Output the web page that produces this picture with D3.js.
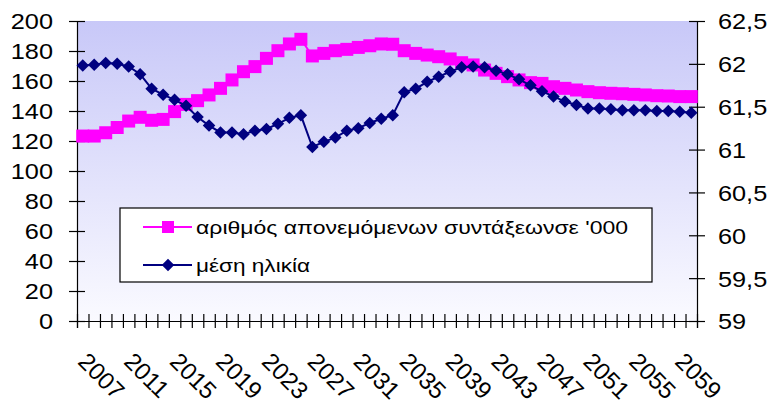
<!DOCTYPE html>
<html>
<head>
<meta charset="utf-8">
<script src="https://cdn.jsdelivr.net/npm/d3@7"></script>
<style>
  body { margin: 0; background: #fff; }
  text { font-family: "Liberation Sans", Arial, sans-serif; fill: #000; }
</style>
</head>
<body>
<script>
// Data
const years = [2007, 2008, 2009, 2010, 2011, 2012, 2013, 2014, 2015, 2016,
  2017, 2018, 2019, 2020, 2021, 2022, 2023, 2024, 2025, 2026,
  2027, 2028, 2029, 2030, 2031, 2032, 2033, 2034, 2035, 2036,
  2037, 2038, 2039, 2040, 2041, 2042, 2043, 2044, 2045, 2046,
  2047, 2048, 2049, 2050, 2051, 2052, 2053, 2054, 2055, 2056,
  2057, 2058, 2059, 2060];
const labelYears = [2007, 2011, 2015, 2019, 2023, 2027, 2031, 2035, 2039, 2043, 2047, 2051, 2055, 2059];

// number of pensions granted, thousands (left axis)
const pensions = [123.3, 123.3, 125.5, 129, 133.3, 135.8, 133.8, 134.4, 139.6, 144.4,
  146.9, 150.7, 155.1, 160.7, 166.2, 169.6, 175.1, 180.2, 184.7, 187.8,
  176.7, 178.4, 180.2, 181.1, 182.4, 183.5, 184.7, 184.5, 180.2, 178.4,
  177.3, 176.2, 174.7, 172.2, 170.7, 167.3, 165.1, 162.9, 160.7, 158.9,
  158.4, 156.2, 155.1, 154, 152.9, 152.2, 151.8, 151.5, 151.1, 150.7,
  150.2, 150, 149.6, 149.6];

// average age (right axis)
const age = [61.98, 61.99, 62.01, 62.0, 61.97, 61.88, 61.71, 61.64, 61.58, 61.51,
  61.38, 61.28, 61.20, 61.20, 61.18, 61.22, 61.24, 61.30, 61.37, 61.40,
  61.03, 61.09, 61.14, 61.22, 61.25, 61.31, 61.36, 61.40, 61.67, 61.71,
  61.79, 61.85, 61.91, 61.96, 61.97, 61.96, 61.92, 61.88, 61.82, 61.75,
  61.68, 61.62, 61.56, 61.52, 61.48, 61.48, 61.47, 61.46, 61.46, 61.46,
  61.45, 61.45, 61.44, 61.43];

const leftTicks = [0, 20, 40, 60, 80, 100, 120, 140, 160, 180, 200];
const rightTicks = [59, 59.5, 60, 60.5, 61, 61.5, 62, 62.5];
const seriesNames = ["αριθμός απονεμόμενων συντάξεωνσε '000", "μέση ηλικία"];

// Layout
const WIDTH = 773;
const HEIGHT = 407;
const MARGIN = { top: 21, right: 76, bottom: 86, left: 77 };
const CHART_WIDTH = WIDTH - MARGIN.left - MARGIN.right;
const CHART_HEIGHT = HEIGHT - MARGIN.top - MARGIN.bottom;
const PINK = "#ff00ff";
const NAVY = "#000080";

const svg = d3.select("body")
  .append("svg")
  .attr("width", WIDTH)
  .attr("height", HEIGHT);

const defs = svg.append("defs");
const grad = defs.append("linearGradient")
  .attr("id", "bg")
  .attr("x1", 0).attr("y1", 0).attr("x2", 0).attr("y2", 1);
grad.append("stop").attr("offset", "0%").attr("stop-color", "#c8c8f8");
grad.append("stop").attr("offset", "100%").attr("stop-color", "#fafaff");

const g = svg.append("g")
  .attr("transform", `translate(${MARGIN.left}, ${MARGIN.top})`);

// Scales
const x = d3.scaleBand()
  .domain(years)
  .range([0, CHART_WIDTH]);
const xEdge = d3.scaleLinear()
  .domain([0, years.length])
  .range([0, CHART_WIDTH]);
const yLeft = d3.scaleLinear()
  .domain([0, 200])
  .range([CHART_HEIGHT, 0]);
const yRight = d3.scaleLinear()
  .domain([59, 62.5])
  .range([CHART_HEIGHT, 0]);
const cx = (d, i) => x(years[i]) + x.bandwidth() / 2;

// Plot area
g.append("rect")
  .attr("width", CHART_WIDTH)
  .attr("height", CHART_HEIGHT)
  .attr("fill", "url(#bg)");

// Axes
const fmtComma = (d) => String(d).replace(".", ",");

const leftAxis = g.append("g")
  .call(d3.axisLeft(yLeft).tickValues(leftTicks).tickSize(8).tickPadding(0));
leftAxis.selectAll(".tick line").attr("x1", 8).attr("x2", -8);
leftAxis.selectAll(".tick text")
  .attr("x", 0)
  .attr("transform", "translate(-24,0) scale(1.15,1)")
  .style("font-size", "22px")
  .attr("dy", "0.36em");

const rightAxis = g.append("g")
  .attr("transform", `translate(${CHART_WIDTH},0)`)
  .call(d3.axisRight(yRight).tickValues(rightTicks).tickSize(8).tickFormat(fmtComma));
rightAxis.selectAll(".tick line").attr("x1", -8).attr("x2", 8);
rightAxis.selectAll(".tick text")
  .attr("x", 0)
  .attr("transform", "translate(21,0) scale(1.15,1)")
  .style("font-size", "22px")
  .attr("dy", "0.36em");

const bottomAxis = g.append("g")
  .attr("transform", `translate(0, ${CHART_HEIGHT})`)
  .call(d3.axisBottom(xEdge).tickValues(d3.range(years.length + 1)).tickSize(7).tickFormat(""));
bottomAxis.selectAll(".tick line").attr("y1", -7).attr("y2", 7);

const xLabels = g.append("g")
  .attr("transform", `translate(0, ${CHART_HEIGHT})`)
  .call(d3.axisBottom(x).tickValues(labelYears).tickSize(0));
xLabels.select(".domain").remove();
xLabels.selectAll(".tick text")
  .attr("x", 0).attr("y", 0).attr("dy", 0)
  .attr("text-anchor", "start")
  .attr("transform", "translate(-6, 42) rotate(45)")
  .style("font-size", "24px");

svg.selectAll(".domain").attr("stroke", "#000").attr("stroke-width", 1.2);
svg.selectAll(".tick line").attr("stroke", "#000").attr("stroke-width", 1.2);

// Pension series
const pinkLine = d3.line()
  .x(cx)
  .y((d) => yLeft(d));
g.append("path")
  .datum(pensions)
  .attr("fill", "none")
  .attr("stroke", PINK)
  .attr("stroke-width", 2)
  .attr("d", pinkLine);
g.selectAll(".sq")
  .data(pensions)
  .enter()
  .append("rect")
  .attr("class", "sq")
  .attr("x", (d, i) => cx(d, i) - 6.5)
  .attr("y", (d) => yLeft(d) - 6.5)
  .attr("width", 13)
  .attr("height", 13)
  .attr("fill", PINK);

// Age series
const navyLine = d3.line()
  .x(cx)
  .y((d) => yRight(d));
g.append("path")
  .datum(age)
  .attr("fill", "none")
  .attr("stroke", NAVY)
  .attr("stroke-width", 2)
  .attr("d", navyLine);
const diamond = d3.symbol().type(d3.symbolDiamond2).size(100);
g.selectAll(".dm")
  .data(age)
  .enter()
  .append("path")
  .attr("class", "dm")
  .attr("transform", (d, i) => `translate(${cx(d, i)}, ${yRight(d)})`)
  .attr("d", diamond)
  .attr("fill", NAVY);

// Legend
const legend = svg.append("g")
  .attr("transform", "translate(120, 208)");
legend.append("rect")
  .attr("width", 532)
  .attr("height", 74)
  .attr("fill", "#fff")
  .attr("stroke", "#000")
  .attr("stroke-width", 1.2);

const legendRows = [
  { name: seriesNames[0], color: PINK, y: 19, width: 432 },
  { name: seriesNames[1], color: NAVY, y: 57, width: 114 }
];
const rows = legend.selectAll(".row")
  .data(legendRows)
  .enter()
  .append("g")
  .attr("transform", (d) => `translate(0, ${d.y})`);
rows.append("line")
  .attr("x1", 23).attr("x2", 72)
  .attr("stroke", (d) => d.color)
  .attr("stroke-width", 2);
rows.filter((d, i) => i === 0).append("rect")
  .attr("x", 42).attr("y", -6).attr("width", 12).attr("height", 12)
  .attr("fill", PINK);
rows.filter((d, i) => i === 1).append("path")
  .attr("transform", "translate(48,0)")
  .attr("d", diamond)
  .attr("fill", NAVY);
rows.append("text")
  .attr("x", 76)
  .attr("dy", "0.36em")
  .attr("textLength", (d) => d.width)
  .attr("lengthAdjust", "spacingAndGlyphs")
  .style("font-size", "19px")
  .text((d) => d.name);
</script>
</body>
</html>
